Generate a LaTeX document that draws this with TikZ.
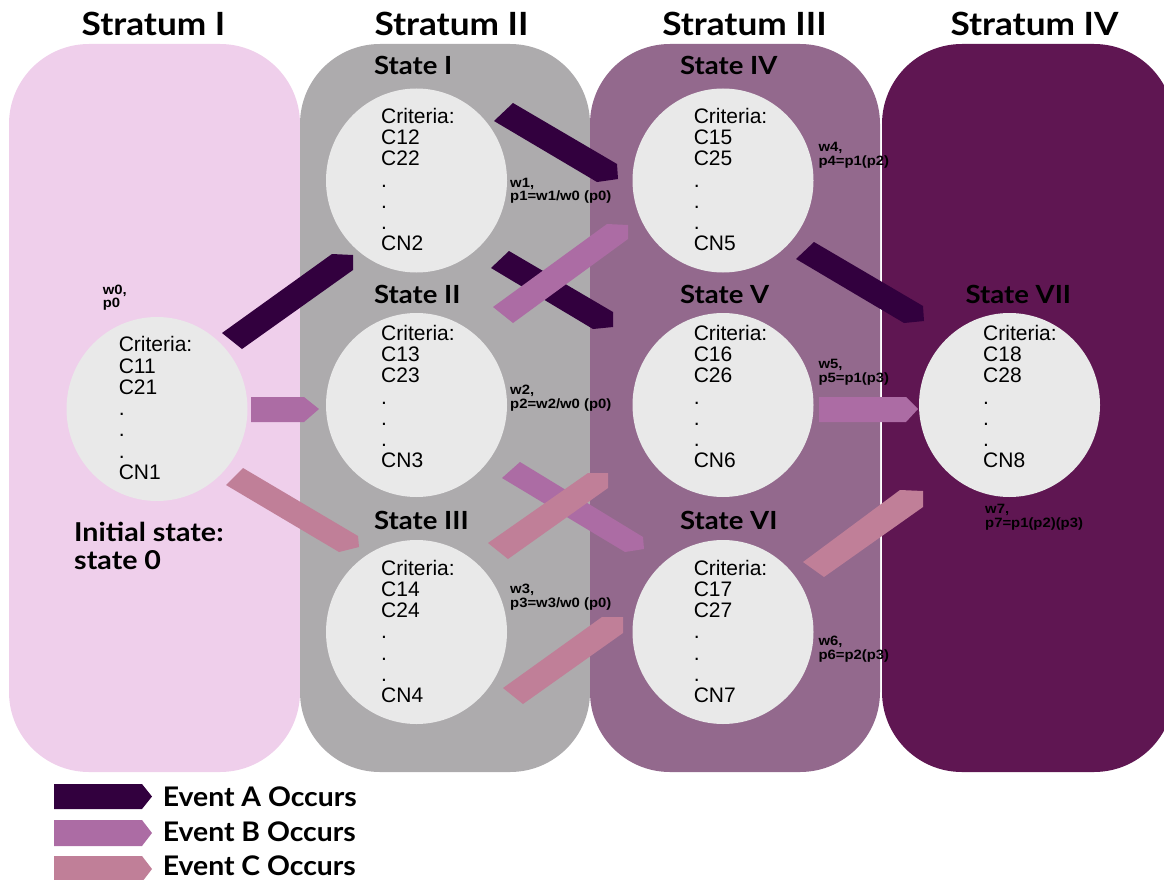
\documentclass[tikz,border=0pt]{standalone}
\usepackage{fontspec}
\setmainfont{Liberation Sans}
\newfontfamily\headfont{Lato}[FakeStretch=1.1]
\newfontfamily\legfont{Lato}[FakeStretch=1.05]
\newfontfamily\smallfont{Liberation Sans}[FakeStretch=1.1]
\usetikzlibrary{shapes.geometric}
\definecolor{strI}{HTML}{EFCFEB}
\definecolor{strII}{HTML}{ADABAD}
\definecolor{strIII}{HTML}{93698D}
\definecolor{strIV}{HTML}{5F1652}
\definecolor{ellc}{HTML}{E9E9E9}
\definecolor{evA}{HTML}{32003E}
\definecolor{evB}{HTML}{AC6CA4}
\definecolor{evC}{HTML}{C07F98}
\begin{document}
\begin{tikzpicture}[x=1pt,y=-1pt,
  panel/.style={rounded corners=80pt},
  stellipse/.style={ellipse, fill=ellc, minimum width=181pt, minimum height=184pt, inner sep=0pt},
  crit/.style={anchor=north west, align=left, inner sep=0pt, font=\fontsize{21}{21.25}\selectfont},
  title/.style={anchor=base, inner sep=0pt, font=\headfont\bfseries\fontsize{32}{36}\selectfont},
  statelbl/.style={anchor=base west, inner sep=0pt, font=\headfont\bfseries\fontsize{25}{28}\selectfont},
  legendlbl/.style={anchor=base west, inner sep=0pt, font=\legfont\bfseries\fontsize{27}{30}\selectfont},
  wlbl/.style={anchor=base west, inner sep=0pt, font=\smallfont\bfseries\fontsize{13.5}{15}\selectfont}
]
\useasboundingbox (0,0) rectangle (1164,880);
% strata panels
\fill[strI, panel] (9,44) rectangle (300,772);
\fill[strII, panel] (300,44) rectangle (590,772);
\fill[strIII, panel] (590,44) rectangle (880,772);
\fill[strIV, panel] (882,44) rectangle (1174,772);
% titles
\node[title] (t1) at (153.5,36) {Stratum I};
\node[title] (t2) at (451.5,36) {Stratum II};
\node[title] (t3) at (744.5,36) {Stratum III};
\node[title] (t4) at (1034.5,36) {Stratum IV};
% state ellipses
\node[stellipse] (s0) at (157,409) {};
\node[stellipse] (s1) at (416.5,180.5) {};
\node[stellipse] (s2) at (416.5,405) {};
\node[stellipse] (s3) at (416.5,632) {};
\node[stellipse] (s4) at (723,180.5) {};
\node[stellipse] (s5) at (723,405) {};
\node[stellipse] (s6) at (723,632) {};
\node[stellipse] (s7) at (1009.5,405) {};
% criteria texts
\node[crit] (c0) at (118.6,336.4) {Criteria:\\C11\\C21\\.\\.\\.\\CN1};
\node[crit] (c1) at (381,108) {Criteria:\\C12\\C22\\.\\.\\.\\CN2};
\node[crit] (c2) at (381,325) {Criteria:\\C13\\C23\\.\\.\\.\\CN3};
\node[crit] (c3) at (381,559.7) {Criteria:\\C14\\C24\\.\\.\\.\\CN4};
\node[crit] (c4) at (693.6,108) {Criteria:\\C15\\C25\\.\\.\\.\\CN5};
\node[crit] (c5) at (693.6,325) {Criteria:\\C16\\C26\\.\\.\\.\\CN6};
\node[crit] (c6) at (693.6,559.7) {Criteria:\\C17\\C27\\.\\.\\.\\CN7};
\node[crit] (c7) at (983,325) {Criteria:\\C18\\C28\\.\\.\\.\\CN8};
% state labels
\node[statelbl] (l1) at (374,75) {State I};
\node[statelbl] (l2) at (374,303) {State II};
\node[statelbl] (l3) at (374,529) {State III};
\node[statelbl] (l4) at (680,75) {State IV};
\node[statelbl] (l5) at (680,303) {State V};
\node[statelbl] (l6) at (680,529) {State VI};
\node[statelbl] (l7) at (965.5,303) {State VII};
\node[statelbl, font=\headfont\bfseries\fontsize{26}{28}\selectfont] (i0a) at (74,541.7) {Initial state:};
\node[statelbl, font=\headfont\bfseries\fontsize{26}{28}\selectfont] (i0b) at (74,569) {state 0};
% weight labels
\node[wlbl] (w0a) at (102.6,294.3) {w0,};
\node[wlbl] (w0b) at (102.6,307.5) {p0};
\node[wlbl] (w1a) at (510,187) {w1,};
\node[wlbl] (w1b) at (510,200.5) {p1=w1/w0 (p0)};
\node[wlbl] (w2a) at (510,394.3) {w2,};
\node[wlbl] (w2b) at (510,408.3) {p2=w2/w0 (p0)};
\node[wlbl] (w3a) at (510,593.3) {w3,};
\node[wlbl] (w3b) at (510,607.5) {p3=w3/w0 (p0)};
\node[wlbl] (w4a) at (818.4,151.7) {w4,};
\node[wlbl] (w4b) at (818.4,165.7) {p4=p1(p2)};
\node[wlbl] (w5a) at (818.4,368.3) {w5,};
\node[wlbl] (w5b) at (818.4,382.5) {p5=p1(p3)};
\node[wlbl] (w6a) at (818.4,645) {w6,};
\node[wlbl] (w6b) at (818.4,659) {p6=p2(p3)};
\node[wlbl] (w7a) at (985,513.3) {w7,};
\node[wlbl] (w7b) at (985,527.7) {p7=p1(p2)(p3)};
% event arrows A
\fill[evA] (222,333) -- (242,349) -- (353,270) -- (353,255) -- (332,254) -- cycle;
\fill[evA] (494,121) -- (513,103) -- (617,164) -- (618,179) -- (597,182) -- cycle;
\fill[evA] (491,268) -- (509,251) -- (613,312) -- (613,327) -- (593,329) -- cycle;
\fill[evA] (796,259) -- (814,242) -- (923,306) -- (924,321) -- (904,323) -- cycle;
% event arrows B
\fill[evB] (251,397) -- (304,397) -- (319,409) -- (304,422) -- (251,422) -- cycle;
\fill[evB] (493,307) -- (513,323) -- (628,239) -- (628,225) -- (607,224) -- cycle;
\fill[evB] (502,478) -- (520,462) -- (643,537) -- (644,549) -- (625,552) -- cycle;
\fill[evB] (819,397) -- (906,397) -- (918,409) -- (906,422) -- (819,422) -- cycle;
% event arrows C
\fill[evC] (226,485) -- (243,468) -- (358,536) -- (359,547) -- (339,552) -- cycle;
\fill[evC] (488,543) -- (508,559) -- (608,488) -- (608,473) -- (588,473) -- cycle;
\fill[evC] (503,688) -- (523,704) -- (623,633) -- (623,617) -- (602,617) -- cycle;
\fill[evC] (803,562) -- (824,577) -- (923,507) -- (923,491) -- (900,490) -- cycle;
% legend
\fill[evA] (54,784) -- (142,784) -- (152,796.5) -- (142,809) -- (54,809) -- cycle;
\fill[evB] (54,820) -- (142,820) -- (152,833) -- (142,846) -- (54,846) -- cycle;
\fill[evC] (54,856) -- (142,856) -- (152,869) -- (142,882) -- (54,882) -- cycle;
\node[legendlbl] (ea) at (162.6,806.7) {Event A Occurs};
\node[legendlbl] (eb) at (162.6,841) {Event B Occurs};
\node[legendlbl] (ec) at (162.6,875.7) {Event C Occurs};
\end{tikzpicture}
\end{document}
